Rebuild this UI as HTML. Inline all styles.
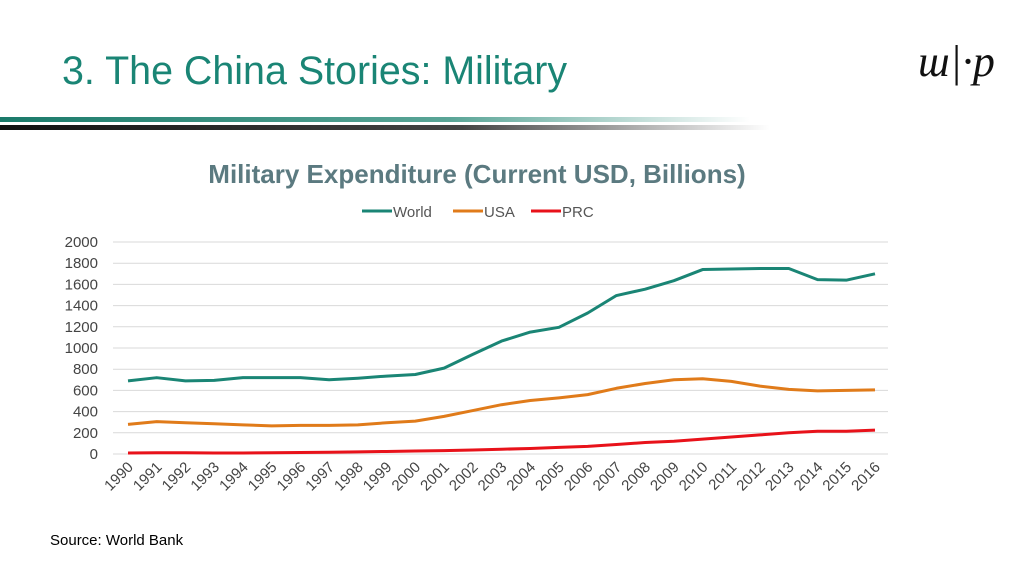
<!DOCTYPE html>
<html><head><meta charset="utf-8"><style>
body{margin:0;width:1024px;height:576px;background:#fff;overflow:hidden;font-family:"Liberation Sans",sans-serif;position:relative}
#title{position:absolute;left:62px;top:49px;font-size:40px;color:#1a8575;transform:scaleX(0.985);transform-origin:left top;white-space:nowrap}
#logo{position:absolute;left:918px;top:36px;font-family:"Liberation Serif",serif;font-size:44px;font-style:italic;color:#111}
#source{position:absolute;left:50px;top:532px;font-size:15px;color:#000}
</style></head><body>
<div id="title">3. The China Stories: Military</div>
<div id="logo">ɯ|·p</div>
<svg width="1024" height="576" style="position:absolute;left:0;top:0">
<defs>
<linearGradient id="g1" x1="0" x2="1"><stop offset="0" stop-color="#1a7a6a"/><stop offset="0.6" stop-color="#5aa597"/><stop offset="1" stop-color="#fff"/></linearGradient>
<linearGradient id="g2" x1="0" x2="1"><stop offset="0" stop-color="#111"/><stop offset="0.6" stop-color="#444"/><stop offset="1" stop-color="#fff"/></linearGradient>
</defs>
<rect x="0" y="117" width="750" height="5" fill="url(#g1)"/>
<rect x="0" y="125" width="770" height="5" fill="url(#g2)"/>
<text x="477" y="183" text-anchor="middle" font-size="26" font-weight="bold" fill="#5b7a80">Military Expenditure (Current USD, Billions)</text>
<g id="legend" font-size="15" fill="#555"></g>
<g id="grid"></g><g id="lines"></g><g id="xl"></g>
</svg>
<div id="source">Source: World Bank</div>
<script>
const years=[1990,1991,1992,1993,1994,1995,1996,1997,1998,1999,2000,2001,2002,2003,2004,2005,2006,2007,2008,2009,2010,2011,2012,2013,2014,2015,2016];
const world=[690,720,690,695,720,720,720,700,715,735,750,810,940,1065,1150,1195,1330,1495,1555,1635,1740,1745,1750,1750,1645,1640,1700];
const usa=[280,305,295,285,275,265,270,270,275,295,310,355,410,465,505,530,560,620,665,700,710,685,640,610,595,600,605];
const prc=[10,12,12,10,10,12,14,16,20,24,28,32,38,45,52,62,72,90,108,120,140,160,180,200,215,215,225];
const yTicks=[0,200,400,600,800,1000,1200,1400,1600,1800,2000];
const NS='http://www.w3.org/2000/svg';
const x=i=>128+i*(875-128)/(years.length-1);
const y=v=>454-v*(454-242)/2000;
function mk(t,a,p){const e=document.createElementNS(NS,t);for(const k in a)e.setAttribute(k,a[k]);p.appendChild(e);return e;}
const grid=document.getElementById('grid');
yTicks.forEach(v=>{
 const l=mk('line',{x1:113,x2:888,y1:y(v),y2:y(v),stroke:'#d9d9d9','stroke-width':1},grid);
 
 
 const t=mk('text',{x:98,y:y(v)+5,'text-anchor':'end','font-size':15,fill:'#444'},grid);
 t.textContent=v;
 
 
});
const xl=document.getElementById('xl');
years.forEach((yr,i)=>{
 const t=mk('text',{x:x(i)+6,y:468,'text-anchor':'end','font-size':15,fill:'#444',transform:`rotate(-45 ${x(i)+6} 468)`},xl);
 t.textContent=yr;
 
 
});
const series=[['world',world,'#1a8575'],['usa',usa,'#e07b1a'],['prc',prc,'#e8121a']];
const lines=document.getElementById('lines');
series.forEach(([n,d,c])=>{
 const p=mk('polyline',{points:d.map((v,i)=>x(i)+','+y(v)).join(' '),fill:'none',stroke:c,'stroke-width':3,'stroke-linejoin':'round'},lines);
 
 
});
const lg=document.getElementById('legend');
[['World','#1a8575',362],['USA','#e07b1a',453],['PRC','#e8121a',531]].forEach(([n,c,lx])=>{
 const l=mk('line',{x1:lx,x2:lx+30,y1:211,y2:211,stroke:c,'stroke-width':3},lg);
 
 
 const t=mk('text',{x:lx+31,y:217},lg);
 t.textContent=n;
 
 
});
</script>
</body></html>
